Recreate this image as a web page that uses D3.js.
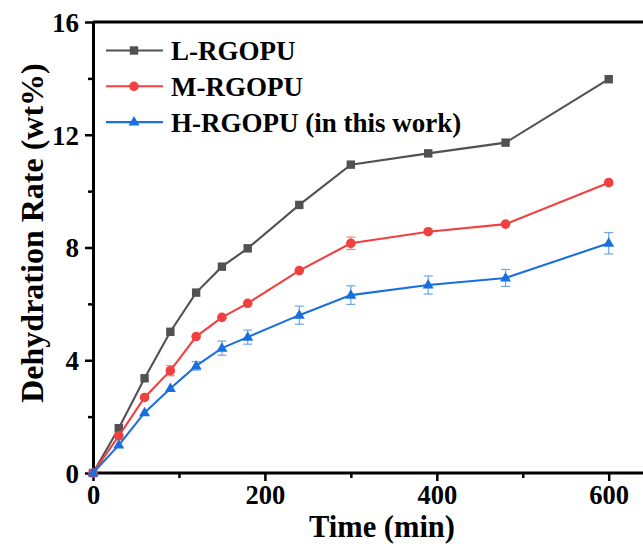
<!DOCTYPE html>
<html><head><meta charset="utf-8">
<script src="https://cdn.jsdelivr.net/npm/d3@7/dist/d3.min.js"></script>
<style>body{margin:0;background:#fff}svg{display:block}</style>
</head><body>
<script>
const times = [0, 30, 60, 90, 120, 150, 180, 240, 300, 390, 480, 600];
const lValues = [0, 1.59, 3.36, 5.01, 6.40, 7.32, 7.97, 9.51, 10.94, 11.34, 11.72, 13.97];
const mValues = [0, 1.32, 2.68, 3.63, 4.84, 5.52, 6.02, 7.18, 8.15, 8.56, 8.83, 10.30];
const mErrors = [0, 0.05, 0.08, 0.18, 0.1, 0.1, 0.08, 0.1, 0.22, 0.1, 0.1, 0.1];
const hValues = [0, 0.99, 2.14, 3.0, 3.80, 4.43, 4.82, 5.60, 6.31, 6.67, 6.92, 8.15];
const hErrors = [0, 0.05, 0.08, 0.1, 0.15, 0.25, 0.25, 0.32, 0.33, 0.32, 0.3, 0.38];
const seriesNames = ["L-RGOPU", "M-RGOPU", "H-RGOPU (in this work)"];
const xTicks = [0, 200, 400, 600];
const xMinor = [100, 300, 500];
const yTicks = [0, 4, 8, 12, 16];
const yMinor = [2, 6, 10, 14];

const W = 643, H = 544;
const m = {left: 93, top: 22, bottom: 71};
const svg = d3.select("body").append("svg").attr("width", W).attr("height", H);
const x = d3.scaleLinear().domain([0, 640]).range([m.left, m.left + 640 * 0.8595]);
const y = d3.scaleLinear().domain([0, 16]).range([H - m.bottom, m.top]);
const font = "'Liberation Serif','Times New Roman',serif";

const series = [
  {name: seriesNames[0], values: lValues, errors: null, color: "#515151", err: "#515151", shape: "square"},
  {name: seriesNames[1], values: mValues, errors: mErrors, color: "#F14040", err: "#F58080", shape: "circle"},
  {name: seriesNames[2], values: hValues, errors: hErrors, color: "#1A6FDF", err: "#6FA4EC", shape: "triangle"}
];

function marker(g, shape, color, cx, cy) {
  if (shape === "square") g.append("rect").attr("x", cx - 4.2).attr("y", cy - 4.2).attr("width", 8.4).attr("height", 8.4).attr("fill", color);
  else if (shape === "circle") g.append("circle").attr("cx", cx).attr("cy", cy).attr("r", 4.8).attr("fill", color);
  else g.append("path").attr("d", `M${cx},${cy - 6} L${cx + 5.5},${cy + 3.5} L${cx - 5.5},${cy + 3.5} Z`).attr("fill", color);
}

// top frame line
svg.append("line").attr("x1", m.left).attr("x2", W).attr("y1", y(16)).attr("y2", y(16))
  .attr("stroke", "#000").attr("stroke-width", 3);

// axes
const xAxis = svg.append("g").attr("transform", `translate(0,${y(0)})`)
  .call(d3.axisBottom(x).tickValues(xTicks).tickFormat(d3.format("d")).tickSizeInner(8).tickSizeOuter(0).tickPadding(4));
xAxis.append("g").call(d3.axisBottom(x).tickValues(xMinor).tickFormat("").tickSizeInner(5).tickSizeOuter(0))
  .select(".domain").remove();
const yAxis = svg.append("g").attr("transform", `translate(${m.left},0)`)
  .call(d3.axisLeft(y).tickValues(yTicks).tickFormat(d3.format("d")).tickSizeInner(8).tickSizeOuter(0).tickPadding(6));
yAxis.append("g").call(d3.axisLeft(y).tickValues(yMinor).tickFormat("").tickSizeInner(5).tickSizeOuter(0))
  .select(".domain").remove();
[xAxis, yAxis].forEach(a => {
  a.selectAll(".domain").attr("stroke-width", 3);
  a.selectAll(".tick line").attr("stroke-width", 2.5);
  a.selectAll("text").attr("font-family", font).attr("font-weight", "bold").attr("font-size", 27).attr("fill", "#000");
});
xAxis.selectAll("text").attr("font-size", 26.5);
xAxis.select(".domain").attr("d", `M${m.left},0H${W}`);
yAxis.selectAll(".tick text").attr("dy", "0.35em");

// titles
svg.append("text").attr("x", 382).attr("y", 536.5).attr("text-anchor", "middle")
  .attr("font-family", font).attr("font-weight", "bold").attr("font-size", 30.5).text("Time (min)");
svg.append("text").attr("transform", `translate(43,233) rotate(-90)`).attr("text-anchor", "middle")
  .attr("font-family", font).attr("font-weight", "bold").attr("font-size", 32).text("Dehydration Rate (wt%)");

// data
const line = d3.line().x((d, i) => x(times[i])).y(d => y(d));
series.forEach(s => {
  const g = svg.append("g");
  if (s.errors) {
    s.values.forEach((v, i) => {
      const e = s.errors[i];
      if (e < 0.12) return;
      const cx = x(times[i]);
      g.append("line").attr("x1", cx).attr("x2", cx).attr("y1", y(v - e)).attr("y2", y(v + e)).attr("stroke", s.err).attr("stroke-width", 1.2);
      [v - e, v + e].forEach(t => g.append("line").attr("x1", cx - 4.5).attr("x2", cx + 4.5).attr("y1", y(t)).attr("y2", y(t)).attr("stroke", s.err).attr("stroke-width", 1.2));
    });
  }
  g.append("path").attr("d", line(s.values)).attr("fill", "none").attr("stroke", s.color).attr("stroke-width", 2.1);
  s.values.forEach((v, i) => marker(g, s.shape, s.color, x(times[i]), y(v)));
});

// legend
series.forEach((s, i) => {
  const ly = 50.5 + i * 35.8;
  const g = svg.append("g");
  g.append("line").attr("x1", 106).attr("x2", 163).attr("y1", ly).attr("y2", ly).attr("stroke", s.color).attr("stroke-width", 2.1);
  marker(g, s.shape, s.color, 134, ly);
  g.append("text").attr("x", 171).attr("y", ly).attr("dy", "0.35em").attr("font-family", font)
    .attr("font-weight", "bold").attr("font-size", 27).text(s.name);
});
</script>
</body></html>
